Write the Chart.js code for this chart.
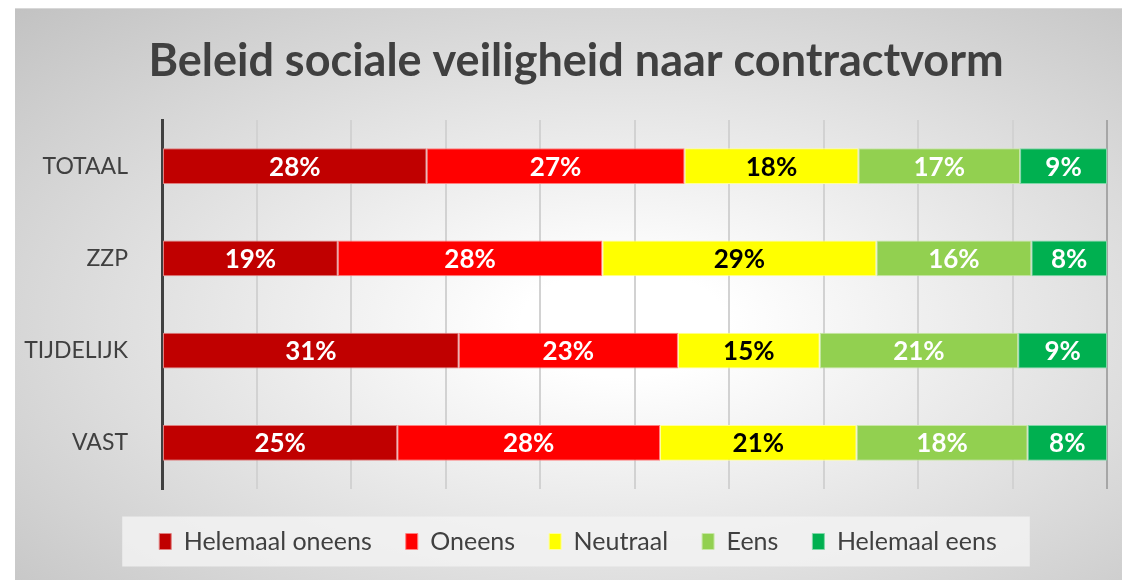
<!DOCTYPE html>
<html>
<head>
<meta charset="utf-8">
<script src="https://cdn.jsdelivr.net/npm/chart.js@4.4.0/dist/chart.umd.min.js"></script>
<style>
	html, body { margin: 0; padding: 0; background: #ffffff; }
	#wrap { position: absolute; left: 0; top: 0; width: 1122px; height: 580px; }
	#bg {
		position: absolute; left: 15px; top: 8px; width: 1107px; height: 572px;
		background: radial-gradient(ellipse at 55% 55%, #ffffff 12%, #c2c2c2 100%);
		border-top: 1px solid #d8d8d8;
	}
	canvas { position: absolute; left: 0; top: 0; }
</style>
</head>
<body>
<div id="wrap">
	<div id="bg"></div>
	<canvas id="chart" width="1122" height="580"></canvas>
</div>
<script>
var categories = ['TOTAAL', 'ZZP', 'TIJDELIJK', 'VAST']
var seriesNames = ['Helemaal oneens', 'Oneens', 'Neutraal', 'Eens', 'Helemaal eens']
var helemaalOneens = [28.0, 18.6, 31.4, 24.9]
var oneens = [27.3, 28.0, 23.2, 27.8]
var neutraal = [18.4, 29.0, 15.0, 20.8]
var eens = [17.1, 16.4, 21.0, 18.1]
var helemaalEens = [9.2, 8.0, 9.4, 8.4]
var titleText = 'Beleid sociale veiligheid naar contractvorm'

var colors = ['#c00000', '#ff0000', '#ffff00', '#92d050', '#00b050']
var edges = ['#e07f7f', '#ff8080', '#ffff99', '#c8e7a7', '#7fd7a7']
var labelColors = ['#ffffff', '#ffffff', '#000000', '#ffffff', '#ffffff']
var allSeries = [helemaalOneens, oneens, neutraal, eens, helemaalEens]

var fontName = 'Lato'
var legendShift = 34

// draw the percentages inside each segment
var barLabels = {
	id: 'barLabels',
	afterDatasetsDraw: function(chart)
	{
		var ctx = chart.ctx
		ctx.save()
		ctx.font = 'bold 26px ' + fontName
		ctx.textAlign = 'center'
		ctx.textBaseline = 'middle'
		chart.data.datasets.forEach(function(ds, i)
		{
			var meta = chart.getDatasetMeta(i)
			meta.data.forEach(function(bar, j)
			{
				ctx.fillStyle = labelColors[i]
				ctx.fillText(Math.round(ds.data[j]) + '%', (bar.x + bar.base) / 2, bar.y + 1)
			})
		})
		ctx.restore()
	}
}

// title and legend sit a bit right of the plot centre in the original
var shiftBlocks = {
	id: 'shiftBlocks',
	afterLayout: function(chart)
	{
		if(chart.titleBlock) chart.titleBlock.left += 30
		if(chart.legend) chart.legend.left += legendShift
	}
}

// light box behind the legend
var legendBox = {
	id: 'legendBox',
	beforeDraw: function(chart)
	{
		var lg = chart.legend
		if(!lg || !lg.legendHitBoxes.length) return
		var boxes = lg.legendHitBoxes
		var first = boxes[0]
		var last = boxes[boxes.length - 1]
		var cy = first.top + first.height / 2
		var x0 = first.left - 37
		var w = (last.left + last.width) - first.left + 70
		var ctx = chart.ctx
		ctx.save()
		ctx.fillStyle = 'rgba(242,242,242,0.85)'
		ctx.fillRect(x0, cy - 25, w, 50)
		ctx.restore()
	}
}

var ctx0 = document.getElementById('chart')
var chart = new Chart(ctx0, {
	type: 'bar',
	data: {
		labels: categories,
		datasets: allSeries.map(function(values, i)
		{
			return {
				label: seriesNames[i],
				data: values,
				backgroundColor: colors[i],
				borderColor: edges[i],
				borderWidth: 1,
				borderSkipped: false,
				barPercentage: 0.39,
				categoryPercentage: 1
			}
		})
	},
	options: {
		indexAxis: 'y',
		responsive: false,
		animation: false,
		devicePixelRatio: 1,
		layout: {
			padding: { top: 8, left: 15, right: 15, bottom: 16 }
		},
		plugins: {
			title: {
				display: true,
				text: titleText,
				color: '#404040',
				font: { family: fontName, size: 45, weight: 'bold' },
				padding: { top: 26, bottom: 32 }
			},
			legend: {
				position: 'bottom',
				labels: {
					color: '#404040',
					font: { family: fontName, size: 25 },
					boxWidth: 12,
					boxHeight: 16,
					padding: 34
				}
			},
			tooltip: { enabled: false }
		},
		scales: {
			x: {
				stacked: true,
				min: 0,
				max: 100,
				ticks: { display: false, stepSize: 10 },
				border: { display: false },
				grid: {
					drawTicks: false,
					color: function(c)
					{
						return c.index === 10 ? '#a6a6a6' : '#d2d2d2'
					},
					lineWidth: 2
				},
				afterFit: function(s) { s.height = 6 }
			},
			y: {
				stacked: true,
				ticks: {
					color: '#404040',
					font: { family: fontName, size: 23 },
					padding: 26
				},
				grid: { display: false },
				border: { display: true, color: '#404040', width: 3 },
				afterFit: function(s) { s.width = 147 }
			}
		}
	},
	plugins: [shiftBlocks, legendBox, barLabels]
})
</script>
</body>
</html>
